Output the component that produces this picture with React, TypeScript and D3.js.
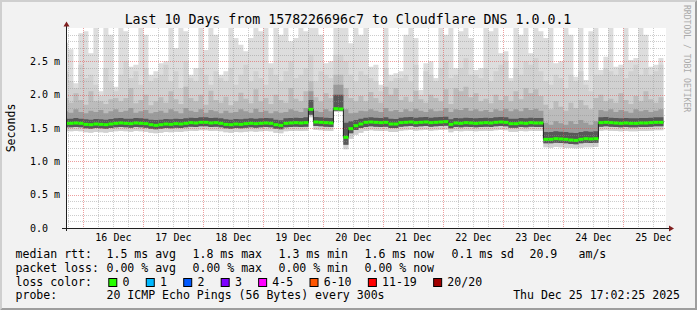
import React from "react";
import * as d3 from "d3";

const W = 697;
const H = 310;
const FONT = "'DejaVu Sans Mono', monospace";

const rangeStart = new Date(Date.UTC(2025, 11, 15, 17, 2, 25));
const rangeEnd = new Date(Date.UTC(2025, 11, 25, 17, 2, 25));
const firstBin = new Date(Date.UTC(2025, 11, 15, 16, 0, 0));
const binHours = 2;

// median rtt (ms), one value per 2-hour bin
const median = [
  1.57, 1.57, 1.575, 1.57,
  1.555, 1.55, 1.56, 1.555, 1.55, 1.56,
  1.57, 1.575, 1.57, 1.565, 1.575, 1.57, 1.565,
  1.55, 1.54, 1.55,
  1.56, 1.555, 1.565, 1.56, 1.57,
  1.58, 1.575, 1.585, 1.585, 1.575, 1.58, 1.57,
  1.555, 1.55, 1.56, 1.555,
  1.565, 1.57, 1.565, 1.57, 1.575, 1.57,
  1.55, 1.54,
  1.57, 1.575, 1.58, 1.575, 1.58,
  1.78,
  1.59, 1.585, 1.58, 1.575,
  1.79, 1.785,
  1.36, 1.49, 1.535, 1.56,
  1.585, 1.59, 1.585, 1.58, 1.585, 1.56,
  1.56,
  1.58, 1.585, 1.59, 1.58, 1.585, 1.59, 1.58, 1.585,
  1.59, 1.595, 1.555,
  1.575, 1.57, 1.58, 1.575, 1.57, 1.575, 1.58, 1.575,
  1.585, 1.59, 1.585,
  1.565, 1.565,
  1.575, 1.57, 1.58, 1.575, 1.575,
  1.33, 1.33, 1.34, 1.335, 1.33, 1.32, 1.315, 1.33, 1.34, 1.335, 1.34,
  1.58, 1.585, 1.58, 1.575, 1.57, 1.575, 1.57, 1.57, 1.575, 1.575, 1.58, 1.585, 1.585,
];

// smoke: lowest ping
const pingMin = [
  1.45, 1.45, 1.455, 1.45, 1.435, 1.43, 1.44, 1.435, 1.43, 1.44,
  1.45, 1.455, 1.45, 1.445, 1.455, 1.45, 1.445, 1.43, 1.42, 1.43,
  1.44, 1.435, 1.445, 1.44, 1.45, 1.46, 1.455, 1.465, 1.465, 1.455,
  1.46, 1.45, 1.435, 1.43, 1.44, 1.435, 1.445, 1.45, 1.445, 1.45,
  1.455, 1.45, 1.43, 1.42, 1.45, 1.455, 1.46, 1.455, 1.46, 1.66,
  1.47, 1.465, 1.46, 1.455, 1.74, 1.74, 1.18, 1.34, 1.4, 1.43,
  1.455, 1.465, 1.46, 1.455, 1.46, 1.44, 1.44, 1.46, 1.465, 1.47,
  1.46, 1.465, 1.47, 1.46, 1.465, 1.47, 1.475, 1.435, 1.455, 1.45,
  1.46, 1.455, 1.45, 1.455, 1.46, 1.455, 1.465, 1.47, 1.465, 1.445,
  1.445, 1.455, 1.45, 1.46, 1.455, 1.455, 1.21, 1.205, 1.215, 1.21,
  1.2, 1.2, 1.195, 1.205, 1.21, 1.21, 1.215, 1.46, 1.465, 1.46,
  1.455, 1.45, 1.455, 1.45, 1.45, 1.455, 1.455, 1.46, 1.465, 1.465,
];

// smoke: lower inner pings
const pingLow = [
  1.51, 1.51, 1.515, 1.51, 1.495, 1.49, 1.5, 1.495, 1.49, 1.5,
  1.51, 1.515, 1.51, 1.505, 1.515, 1.51, 1.505, 1.49, 1.48, 1.49,
  1.5, 1.495, 1.505, 1.5, 1.51, 1.52, 1.515, 1.525, 1.525, 1.515,
  1.52, 1.51, 1.495, 1.49, 1.5, 1.495, 1.505, 1.51, 1.505, 1.51,
  1.515, 1.51, 1.49, 1.48, 1.51, 1.515, 1.52, 1.515, 1.52, 1.7,
  1.53, 1.525, 1.52, 1.515, 1.76, 1.76, 1.25, 1.42, 1.47, 1.5,
  1.515, 1.525, 1.52, 1.515, 1.52, 1.5, 1.5, 1.52, 1.525, 1.53,
  1.52, 1.525, 1.53, 1.52, 1.525, 1.53, 1.535, 1.495, 1.515, 1.51,
  1.52, 1.515, 1.51, 1.515, 1.52, 1.515, 1.525, 1.53, 1.525, 1.505,
  1.505, 1.515, 1.51, 1.52, 1.515, 1.515, 1.27, 1.27, 1.28, 1.275,
  1.27, 1.26, 1.255, 1.27, 1.28, 1.275, 1.28, 1.52, 1.525, 1.52,
  1.515, 1.51, 1.515, 1.51, 1.51, 1.515, 1.515, 1.52, 1.525, 1.525,
];

// smoke: upper inner pings (dark band top)
const pingUp1 = [
  1.64, 1.64, 1.65, 1.64, 1.63, 1.625, 1.635, 1.63, 1.625, 1.635,
  1.645, 1.65, 1.64, 1.64, 1.65, 1.645, 1.64, 1.625, 1.62, 1.625,
  1.635, 1.63, 1.64, 1.635, 1.645, 1.655, 1.65, 1.66, 1.66, 1.65,
  1.655, 1.645, 1.63, 1.625, 1.635, 1.63, 1.64, 1.645, 1.64, 1.645,
  1.65, 1.645, 1.625, 1.615, 1.645, 1.65, 1.655, 1.65, 1.66, 1.92,
  1.665, 1.66, 1.655, 1.65, 2.0, 2.0, 1.58, 1.6, 1.62, 1.64,
  1.655, 1.66, 1.655, 1.65, 1.66, 1.64, 1.635, 1.655, 1.66, 1.665,
  1.655, 1.66, 1.665, 1.655, 1.66, 1.665, 1.67, 1.63, 1.65, 1.645,
  1.655, 1.65, 1.645, 1.65, 1.655, 1.65, 1.66, 1.665, 1.66, 1.64,
  1.64, 1.65, 1.645, 1.655, 1.65, 1.65, 1.44, 1.44, 1.45, 1.445,
  1.44, 1.43, 1.425, 1.44, 1.45, 1.445, 1.45, 1.66, 1.665, 1.655,
  1.65, 1.645, 1.65, 1.645, 1.645, 1.65, 1.65, 1.655, 1.66, 1.66,
];

const pingUp2 = [
  1.75, 1.73, 1.78, 1.74, 1.72, 1.76, 1.74, 1.77, 1.72, 1.75,
  1.78, 1.74, 1.76, 1.8, 1.73, 1.75, 1.77, 1.72, 1.74, 1.76,
  1.73, 1.78, 1.75, 1.72, 1.8, 1.76, 1.74, 1.78, 1.73, 1.77,
  1.75, 1.72, 1.76, 1.73, 1.74, 1.78, 1.75, 1.73, 1.79, 1.74,
  1.76, 1.72, 1.75, 1.73, 1.74, 1.78, 1.76, 1.74, 1.8, 2.05,
  1.76, 1.74, 1.78, 1.75, 2.15, 2.15, 1.78, 1.72, 1.73, 1.76,
  1.75, 1.78, 1.76, 1.74, 1.8, 1.75, 1.77, 1.74, 1.78, 1.75,
  1.79, 1.76, 1.74, 1.78, 1.75, 1.76, 1.8, 1.74, 1.78, 1.77,
  1.8, 1.76, 1.78, 1.75, 1.77, 1.74, 1.78, 1.76, 1.79, 1.75,
  1.78, 1.75, 1.8, 1.77, 1.79, 1.76, 1.58, 1.55, 1.6, 1.57,
  1.55, 1.6, 1.56, 1.62, 1.58, 1.55, 1.6, 1.77, 1.75, 1.78,
  1.74, 1.77, 1.75, 1.73, 1.78, 1.75, 1.77, 1.74, 1.76, 1.78,
];

const pingUp3 = [
  1.95, 1.88, 2.02, 1.92, 1.85, 2.05, 1.9, 1.9, 1.86, 1.93,
  1.95, 1.9, 1.95, 2.1, 1.87, 1.92, 2.0, 1.84, 1.9, 1.96,
  1.88, 2.05, 1.93, 1.86, 2.12, 1.95, 1.9, 2.0, 1.85, 2.06,
  1.92, 1.88, 1.97, 1.84, 1.9, 2.03, 1.94, 1.87, 2.08, 1.9,
  1.95, 1.86, 2.0, 1.92, 1.88, 2.1, 1.94, 1.9, 2.05, 2.2,
  1.96, 1.9, 2.02, 1.95, 2.3, 2.3, 2.1, 1.95, 1.9, 1.98,
  1.9, 2.04, 1.95, 1.88, 2.12, 2.0, 2.1, 1.92, 1.97, 1.89,
  2.06, 1.93, 1.88, 2.0, 1.95, 1.9, 2.08, 1.86, 2.1, 2.05,
  2.12, 1.96, 2.02, 1.9, 1.94, 1.87, 2.0, 1.92, 1.98, 1.9,
  2.05, 1.93, 2.1, 2.02, 2.08, 1.98, 1.85, 1.78, 1.9, 1.82,
  1.76, 1.88, 1.8, 1.92, 1.84, 1.78, 1.95, 2.0, 1.9, 1.94,
  1.88, 2.02, 1.92, 1.86, 1.98, 1.9, 2.05, 1.93, 1.88, 1.96,
];

const pingUp4 = [
  2.35, 2.2, 2.1, 2.45, 2.25, 2.3, 2.15, 1.98, 2.4, 2.2,
  2.05, 2.3, 2.5, 2.25, 2.35, 2.15, 2.4, 2.2, 2.25, 2.3,
  2.45, 2.2, 2.35, 2.1, 2.5, 2.25, 2.2, 2.4, 2.3, 2.15,
  2.35, 2.25, 2.2, 2.4, 2.15, 2.3, 2.45, 2.2, 2.35, 2.25,
  2.15, 2.4, 2.3, 2.2, 2.35, 2.5, 2.25, 2.3, 2.4, 2.6,
  2.2, 2.35, 2.3, 2.25, 2.6, 2.6, 2.5, 2.3, 2.2, 2.35,
  2.3, 2.25, 2.2, 2.05, 2.4, 2.2, 2.25, 2.25, 2.3, 2.2,
  2.45, 2.0, 2.35, 2.3, 2.2, 2.4, 2.5, 2.25, 2.3, 2.4,
  2.55, 2.3, 2.3, 2.25, 2.4, 2.2, 2.35, 2.45, 2.5, 2.2,
  2.4, 2.3, 2.5, 2.45, 2.55, 2.35, 2.2, 2.15, 2.3, 2.25,
  2.1, 2.3, 2.2, 2.35, 2.15, 2.05, 2.3, 2.3, 2.4, 2.35,
  2.3, 2.4, 2.25, 2.35, 2.45, 2.3, 2.4, 2.3, 2.35, 2.45,
];

// smoke: highest ping (values above 3.0 leave the top of the canvas)
const pingMax = [
  2.78, 2.68, 2.17, 2.92, 2.95, 2.62, 3.2, 2.05, 3.1, 2.9,
  2.12, 3.2, 2.95, 2.42, 2.45, 3.2, 2.9, 2.3, 2.35, 2.47,
  2.5, 3.1, 2.7, 3.2, 2.95, 2.3, 2.4, 3.1, 2.67, 3.2,
  2.9, 2.3, 2.35, 3.2, 2.85, 2.75, 2.65, 2.85, 3.2, 2.95,
  3.1, 2.47, 3.2, 2.9, 3.2, 2.8, 2.85, 3.1, 2.95, 3.2,
  3.2, 2.9, 2.47, 2.5, 3.2, 3.2, 3.2, 2.77, 3.1, 2.9,
  3.2, 2.42, 2.45, 2.15, 3.1, 2.3, 2.32, 2.35, 2.9, 3.2,
  2.85, 2.07, 2.47, 2.5, 2.25, 3.1, 2.9, 3.2, 2.4, 2.95,
  3.2, 2.85, 2.37, 2.4, 3.1, 2.95, 3.2, 2.62, 2.65, 2.25,
  3.2, 2.9, 3.1, 2.62, 3.2, 2.95, 2.85, 3.1, 2.47, 2.5,
  3.2, 2.9, 2.27, 3.1, 2.22, 2.95, 3.2, 2.37, 2.57, 3.2,
  2.42, 2.45, 3.1, 2.52, 2.55, 3.2, 2.9, 2.42, 2.45, 2.55,
];

const yTickValues = [0, 0.5, 1.0, 1.5, 2.0, 2.5];
const yTickLabels = ["0.0", "0.5 m", "1.0 m", "1.5 m", "2.0 m", "2.5 m"];

const lossLabels = ["0", "1", "2", "3", "4-5", "6-10", "11-19", "20/20"];
const lossColors = ["#26ff00", "#00b8ff", "#0059ff", "#7e00ff", "#ff00ff", "#ff5500", "#ff0000", "#a10000"];

const rttStats = ["1.5 ms avg", "1.8 ms max", "1.3 ms min", "1.6 ms now", "0.1 ms sd", "20.9", "am/s"];
const lossStats = ["0.00 % avg", "0.00 % max", "0.00 % min", "0.00 % now"];

const title = "Last 10 Days from 1578226696c7 to Cloudflare DNS 1.0.0.1";
const probeText = "20 ICMP Echo Pings (56 Bytes) every 300s";
const dateText = "Thu Dec 25 17:02:25 2025";

// layout
const PX0 = 66;
const PX1 = 666;
const PY0 = 228;
const PY1 = 28;
const statCols = [107, 193, 279, 365, 452, 530, 579];
const CHAR = 6.96;

export default function App() {
  const x = d3.scaleUtc().domain([rangeStart, rangeEnd]).range([PX0, PX1]);
  const y = d3.scaleLinear().domain([0, 3]).range([PY0, PY1]);
  const n = median.length;
  const binTime = (i: number) => new Date(+firstBin + i * binHours * 3600e3);
  const idx = d3.range(n + 1);
  const at = (arr: number[], i: number) => arr[Math.min(i, arr.length - 1)];

  const band = (lo: number[], hi: number[]) =>
    d3
      .area<number>()
      .x((i) => x(binTime(i)))
      .y0((i) => y(at(lo, i)))
      .y1((i) => y(at(hi, i)))
      .curve(d3.curveStepAfter)(idx) || "";

  const bands: [number[], number[], string][] = [
    [pingMin, pingMax, "#dddddd"],
    [pingMin, pingUp4, "#d1d1d1"],
    [pingLow, pingUp3, "#bcbcbc"],
    [pingLow, pingUp2, "#9b9b9b"],
    [pingLow, pingUp1, "#585858"],
  ];

  const medianLine =
    d3
      .line<number>()
      .x((i) => x(binTime(i)))
      .y((i) => y(at(median, i)))
      .curve(d3.curveStepAfter)(idx) || "";

  const minorY = d3.range(1, 30).map((k) => k / 10).filter((v) => Math.round(v * 10) % 5 !== 0);
  const majorY = [0.5, 1.0, 1.5, 2.0, 2.5];
  const majorX = d3.utcDay.range(rangeStart, rangeEnd);
  const minorX = d3.utcHour.every(6)!.range(rangeStart, rangeEnd).filter((d) => d.getUTCHours() !== 0);
  const labelDays = majorX.map((d) => new Date(+d + 12 * 3600e3)).filter((d) => d < rangeEnd);
  const fmt = d3.utcFormat("%d %b");

  const snap = (v: number) => Math.round(v) + 0.5;

  let lx = 108.3;
  const swatches = lossLabels.map((lab, i) => {
    const sx = lx;
    lx += lab.length * CHAR + 30.5;
    return { lab, sx, color: lossColors[i] };
  });

  return (
    <svg
      width={W}
      height={H}
      style={{ position: "absolute", left: 0, top: 0, display: "block" }}
      fontFamily={FONT}
    >
      <defs>
        <clipPath id="plotclip">
          <rect x={PX0} y={PY1} width={PX1 - PX0} height={PY0 - PY1} />
        </clipPath>
      </defs>
      <rect x={0} y={0} width={W} height={H} fill="#f2f2f2" />
      <polygon points={`0,0 ${W},0 ${W - 2},2 2,2 2,${H - 2} 0,${H}`} fill="#cfcfcf" />
      <polygon points={`0,${H} ${W},${H} ${W},0 ${W - 2},2 ${W - 2},${H - 2} 2,${H - 2}`} fill="#9e9e9e" />
      <rect x={PX0} y={PY1} width={PX1 - PX0} height={PY0 - PY1} fill="#ffffff" />

      <g clipPath="url(#plotclip)">
        {bands.map(([lo, hi, c], k) => (
          <path key={k} d={band(lo, hi)} fill={c} />
        ))}
      </g>

      <g strokeDasharray="1,1" strokeWidth={1} fill="none">
        {minorY.map((v) => (
          <line key={"my" + v} x1={PX0} x2={PX1} y1={snap(y(v))} y2={snap(y(v))} stroke="rgba(143,143,143,0.45)" />
        ))}
        {minorX.map((d) => (
          <line key={"mx" + +d} x1={snap(x(d))} x2={snap(x(d))} y1={PY1} y2={PY0} stroke="rgba(143,143,143,0.45)" />
        ))}
        {majorY.map((v) => (
          <line key={"My" + v} x1={PX0} x2={PX1} y1={snap(y(v))} y2={snap(y(v))} stroke="rgba(222,79,79,0.55)" />
        ))}
        {majorX.map((d) => (
          <line key={"Mx" + +d} x1={snap(x(d))} x2={snap(x(d))} y1={PY1} y2={PY0} stroke="rgba(222,79,79,0.55)" />
        ))}
      </g>

      <g clipPath="url(#plotclip)">
        <path d={medianLine} fill="none" stroke="#202020" strokeWidth={1} />
        {median.map((m, i) => (
          <rect
            key={i}
            x={x(binTime(i))}
            width={x(binTime(i + 1)) - x(binTime(i))}
            y={y(m) - 1.5}
            height={3}
            fill={lossColors[0]}
          />
        ))}
      </g>

      {/* axes */}
      <line x1={62} x2={669} y1={PY0 + 0.5} y2={PY0 + 0.5} stroke="#1f1f1f" strokeWidth={1} />
      <line x1={PX0 + 0.5} x2={PX0 + 0.5} y1={PY0 + 3} y2={25} stroke="#1f1f1f" strokeWidth={1} />
      <polygon points={`669,225.5 669,231.5 674,228.5`} fill="#801f1f" />
      <polygon points={`63.5,26.5 69.5,26.5 66.5,21.5`} fill="#801f1f" />

      {/* y tick labels */}
      {yTickValues.map((v, i) => (
        <text key={"yl" + v} x={30} y={y(v) + 3.7} fontSize={10} fill="#000">
          {yTickLabels[i]}
        </text>
      ))}
      {/* x tick labels */}
      {labelDays.map((d) => (
        <text key={"xl" + +d} x={x(d)} y={241} fontSize={10} textAnchor="middle" fill="#000">
          {fmt(d)}
        </text>
      ))}

      <text x={348} y={24} fontSize={13.25} textAnchor="middle" fill="#000">
        {title}
      </text>
      <text transform="translate(15,128) rotate(-90)" fontSize={11.56} textAnchor="middle" fill="#000">
        Seconds
      </text>
      <text transform="translate(684,5) rotate(90)" fontSize={8.1} fill="#aaaaaa">
        RRDTOOL / TOBI OETIKER
      </text>

      {/* legend */}
      <g fontSize={11.56} fill="#000">
        <text x={15.5} y={258.3}>median rtt:</text>
        {rttStats.map((s, i) => (
          <text key={"r" + i} x={statCols[i] - 0.5} y={258.3}>{s}</text>
        ))}
        <text x={15.5} y={272}>packet loss:</text>
        {lossStats.map((s, i) => (
          <text key={"l" + i} x={statCols[i] - 0.5} y={272}>{s}</text>
        ))}
        <text x={15.5} y={285.7}>loss color:</text>
        {swatches.map((s) => (
          <g key={s.lab}>
            <rect x={s.sx + 0.5} y={278.5} width={8} height={8} fill={s.color} stroke="#000" strokeWidth={1} />
            <text x={s.sx + 14.2}  y={285.7}>{s.lab}</text>
          </g>
        ))}
        <text x={15.5} y={299.4}>probe:</text>
        <text x={statCols[0] - 0.5} y={299.4}>{probeText}</text>
        <text x={680} y={299.4} textAnchor="end">{dateText}</text>
      </g>
    </svg>
  );
}
